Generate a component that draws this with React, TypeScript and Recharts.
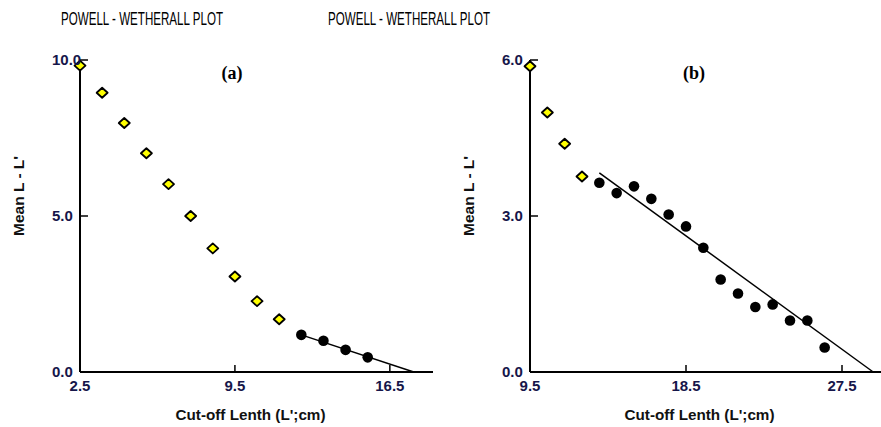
import React from 'react';
import { ScatterChart, Scatter, XAxis, YAxis } from 'recharts';

// (a) cut-off length vs mean L - L'
const lenA = [2.5, 3.5, 4.5, 5.5, 6.5, 7.5, 8.5, 9.5, 10.5, 11.5, 12.5, 13.5, 14.5, 15.5];
const meanA = [9.82, 8.95, 7.98, 7.01, 6.02, 5.0, 3.96, 3.06, 2.27, 1.69, 1.19, 1.0, 0.71, 0.47];
const skippedA = 10; // leading points left out of the fit (drawn yellow)
const fitLenA = [12.5, 17.58];
const fitMeanA = [1.19, 0];
const xTicksA = [2.5, 9.5, 16.5];
const yTicksA = [0, 5, 10];

// (b)
const lenB = [9.5, 10.5, 11.5, 12.5, 13.5, 14.5, 15.5, 16.5, 17.5, 18.5, 19.5, 20.5, 21.5, 22.5, 23.5, 24.5, 25.5, 26.5];
const meanB = [5.88, 4.99, 4.39, 3.76, 3.64, 3.44, 3.57, 3.33, 3.03, 2.8, 2.39, 1.78, 1.51, 1.25, 1.3, 0.99, 0.99, 0.47];
const skippedB = 4;
const fitLenB = [13.5, 29.3];
const fitMeanB = [3.83, 0];
const xTicksB = [9.5, 18.5, 27.5];
const yTicksB = [0, 3, 6];

const TICK_COLOR = '#16164a';
const SANS = '"Liberation Sans", Arial, sans-serif';

const toPoints = (xs: number[], ys: number[]) => xs.map((x, i) => ({ x, y: ys[i] }));

const YTick = ({ x, y, payload }: any) => (
  <g>
    <line x1={x} x2={x + 8} y1={y} y2={y} stroke="#000" strokeWidth={1.5} />
    <text x={x - 28} y={y} dy={5} textAnchor="start" fontFamily={SANS} fontWeight="bold" fontSize={15} fill={TICK_COLOR}>
      {Number(payload.value).toFixed(1)}
    </text>
  </g>
);

const XTick = ({ x, y, payload }: any) => (
  <g>
    <line x1={x} x2={x} y1={y} y2={y - 7} stroke="#000" strokeWidth={1.5} />
    <text x={x} y={y + 19} textAnchor="middle" fontFamily={SANS} fontWeight="bold" fontSize={15} fill={TICK_COLOR}>
      {Number(payload.value).toFixed(1)}
    </text>
  </g>
);

const YellowMark = ({ cx, cy }: any) => (
  <path
    d={`M${cx - 5.5},${cy} L${cx},${cy - 5} L${cx + 5.5},${cy} L${cx},${cy + 5} Z`}
    fill="#ffff00"
    stroke="#000"
    strokeWidth={1.8}
    strokeLinejoin="round"
  />
);

const BlackMark = ({ cx, cy }: any) => <circle cx={cx} cy={cy} r={5.3} fill="#000" />;

const NoMark = () => <g />;

const yLabel = (props: any) => {
  const { x, y, height } = props.viewBox;
  const cx = x + 20;
  const cy = y + height / 2 - 20;
  return (
    <text x={cx} y={cy} transform={`rotate(-90 ${cx} ${cy})`} textAnchor="middle" dominantBaseline="middle"
      fontFamily={SANS} fontWeight="bold" fontSize={15} fill="#111" textLength={80} lengthAdjust="spacingAndGlyphs">
      Mean L - L'
    </text>
  );
};

const xLabel = (props: any) => {
  const { x, y, width } = props.viewBox;
  return (
    <text x={x + width / 2 - 6} y={y + 48} textAnchor="middle" fontFamily={SANS} fontWeight="bold" fontSize={15} fill="#111"
      textLength={150} lengthAdjust="spacingAndGlyphs">
      Cut-off Lenth (L';cm)
    </text>
  );
};

interface PanelProps {
  width: number;
  rightMargin: number;
  lens: number[];
  means: number[];
  skipped: number;
  fitLens: number[];
  fitMeans: number[];
  xDomain: [number, number];
  yDomain: [number, number];
  xTicks: number[];
  yTicks: number[];
}

const Panel = (p: PanelProps) => {
  const pts = toPoints(p.lens, p.means);
  return (
    <ScatterChart width={p.width} height={427} margin={{ top: 60, right: p.rightMargin, bottom: 0, left: 0 }}>
      <XAxis
        type="number"
        dataKey="x"
        domain={p.xDomain}
        ticks={p.xTicks}
        height={55}
        tickSize={0}
        tickMargin={0}
        tickLine={false}
        axisLine={{ stroke: '#000', strokeWidth: 2 }}
        tick={<XTick />}
        label={{ content: xLabel }}
      />
      <YAxis
        type="number"
        dataKey="y"
        domain={p.yDomain}
        ticks={p.yTicks}
        width={80}
        tickSize={0}
        tickMargin={0}
        tickLine={false}
        axisLine={{ stroke: '#000', strokeWidth: 2 }}
        tick={<YTick />}
        label={{ content: yLabel }}
      />
      <Scatter
        data={toPoints(p.fitLens, p.fitMeans)}
        line={{ stroke: '#000', strokeWidth: 1.5 }}
        shape={<NoMark />}
        isAnimationActive={false}
      />
      <Scatter data={pts.slice(0, p.skipped)} shape={<YellowMark />} isAnimationActive={false} />
      <Scatter data={pts.slice(p.skipped)} shape={<BlackMark />} isAnimationActive={false} />
    </ScatterChart>
  );
};

const Titles = () => (
  <svg width={881} height={427} style={{ position: 'absolute', left: 0, top: 0, pointerEvents: 'none' }}>
    <text x={142} y={25} textAnchor="middle" fontFamily={SANS} fontSize={19} fill="#000" textLength={162} lengthAdjust="spacingAndGlyphs">
      POWELL - WETHERALL PLOT
    </text>
    <text x={409} y={25} textAnchor="middle" fontFamily={SANS} fontSize={19} fill="#000" textLength={162} lengthAdjust="spacingAndGlyphs">
      POWELL - WETHERALL PLOT
    </text>
    <text x={232} y={79} textAnchor="middle" fontFamily='"Liberation Serif", serif' fontWeight="bold" fontSize={18} fill="#000">
      (a)
    </text>
    <text x={694} y={79} textAnchor="middle" fontFamily='"Liberation Serif", serif' fontWeight="bold" fontSize={18} fill="#000">
      (b)
    </text>
  </svg>
);

export default function App() {
  return (
    <div style={{ position: 'absolute', left: 0, top: 0, width: 881, height: 427, background: '#fff', overflow: 'hidden' }}>
      <div style={{ position: 'absolute', left: 0, top: 0 }}>
        <Panel
          width={450}
          rightMargin={17}
          lens={lenA}
          means={meanA}
          skipped={skippedA}
          fitLens={fitLenA}
          fitMeans={fitMeanA}
          xDomain={[2.5, 18.45]}
          yDomain={[0, 10]}
          xTicks={xTicksA}
          yTicks={yTicksA}
        />
      </div>
      <div style={{ position: 'absolute', left: 450, top: 0 }}>
        <Panel
          width={431}
          rightMargin={0}
          lens={lenB}
          means={meanB}
          skipped={skippedB}
          fitLens={fitLenB}
          fitMeans={fitMeanB}
          xDomain={[9.5, 29.75]}
          yDomain={[0, 6]}
          xTicks={xTicksB}
          yTicks={yTicksB}
        />
      </div>
      <Titles />
    </div>
  );
}
